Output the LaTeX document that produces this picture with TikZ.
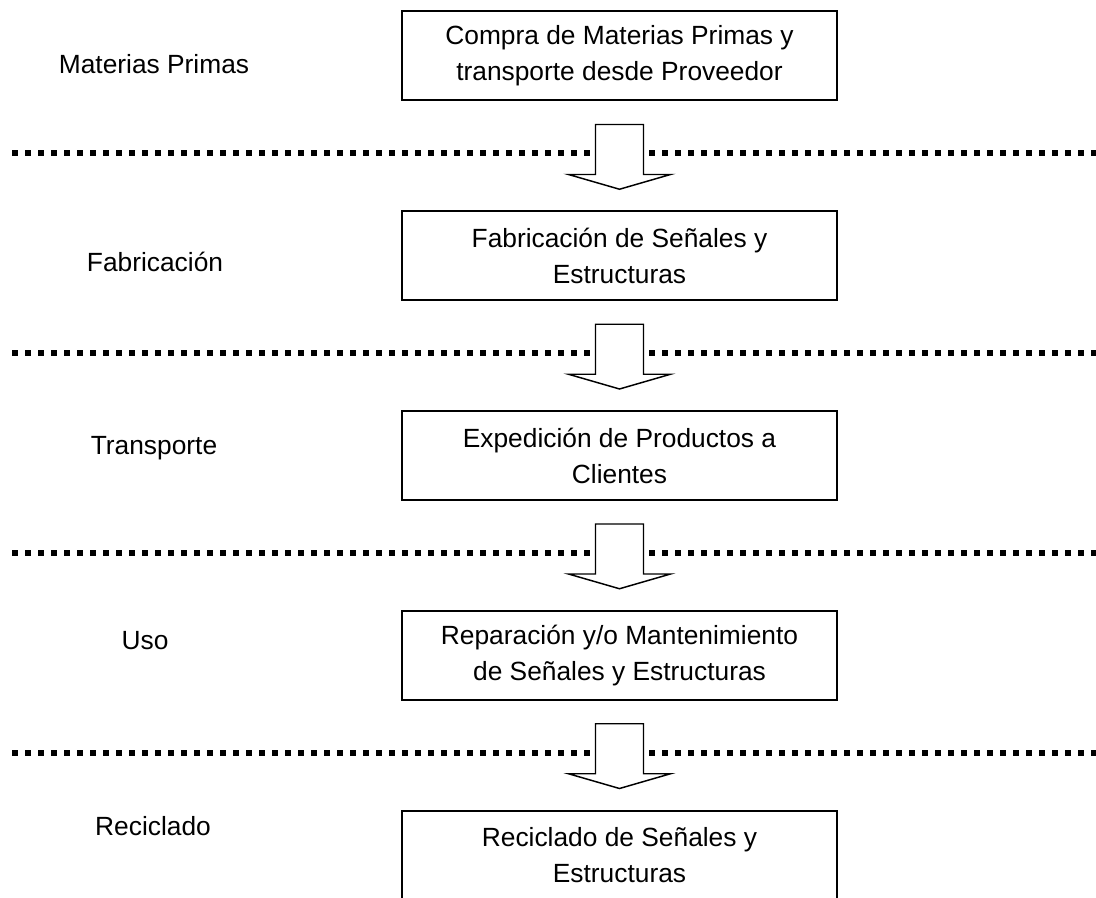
\documentclass[tikz,border=0pt]{standalone}
\usepackage{fontspec}
\setmainfont{Liberation Sans}
\usetikzlibrary{calc}

\begin{document}
\begin{tikzpicture}[x=0.75pt, y=-0.75pt,
    caja/.style={draw, line width=1.5pt, minimum width=326.25pt, minimum height=66.75pt,
      inner sep=0pt, align=center, font=\fontsize{19.75}{27}\selectfont},
    etapa/.style={font=\fontsize{19.75}{27}\selectfont},
    punteada/.style={line width=4.5pt, dash pattern=on 4.5pt off 5.25pt},
    flecha/.style={draw, fill=white, line width=1.1pt, line join=miter}]
        \pgfmathsetmacro{\cx}{619.5}
        \pgfmathsetmacro{\dy}{199.75}
        \pgfmathsetmacro{\bw}{24}
        \pgfmathsetmacro{\hw}{51}
        \useasboundingbox (0,0) rectangle (1096,898);
        % cajas del proceso
        \node[caja] (b1) at (\cx, 56) {Compra de Materias Primas y\\transporte desde Proveedor};
        \node[caja] (b2) at (\cx, 56+\dy) {Fabricación de Señales y\\Estructuras};
        \node[caja] (b3) at (\cx, 56+2*\dy) {Expedición de Productos a\\Clientes};
        \node[caja] (b4) at (\cx, 56+3*\dy) {Reparación y/o Mantenimiento\\de Señales y Estructuras};
        \node[caja] (b5) at (\cx, 56+4*\dy) {Reciclado de Señales y\\Estructuras};
        % etapas
        \node[etapa] (l1) at (154, 64) {Materias Primas};
        \node[etapa] (l2) at (155, 262) {Fabricación};
        \node[etapa] (l3) at (154, 448) {Transporte};
        \node[etapa] (l4) at (145, 641) {Uso};
        \node[etapa] (l5) at (153, 826) {Reciclado};
        % separadores y flechas
        \foreach \i/\j in {1/2, 2/3, 3/4, 4/5}{
            \coordinate (m\i) at ($ (b\i.south) + (0,52) $);
            \draw[punteada] ($ (m\i) + (-607.5,0) $) -- ($ (m\i) + (480,0) $);
            \draw[flecha] ($ (b\i.south) + (-\bw,23) $) -- ($ (b\i.south) + (\bw,23) $)
                -- ($ (b\i.south) + (\bw,73) $) -- ($ (b\i.south) + (\hw,73) $)
                -- ($ (b\j.north) + (0,-21) $)
                -- ($ (b\i.south) + (-\hw,73) $) -- ($ (b\i.south) + (-\bw,73) $) -- cycle;
        }
    \end{tikzpicture}
\end{document}
